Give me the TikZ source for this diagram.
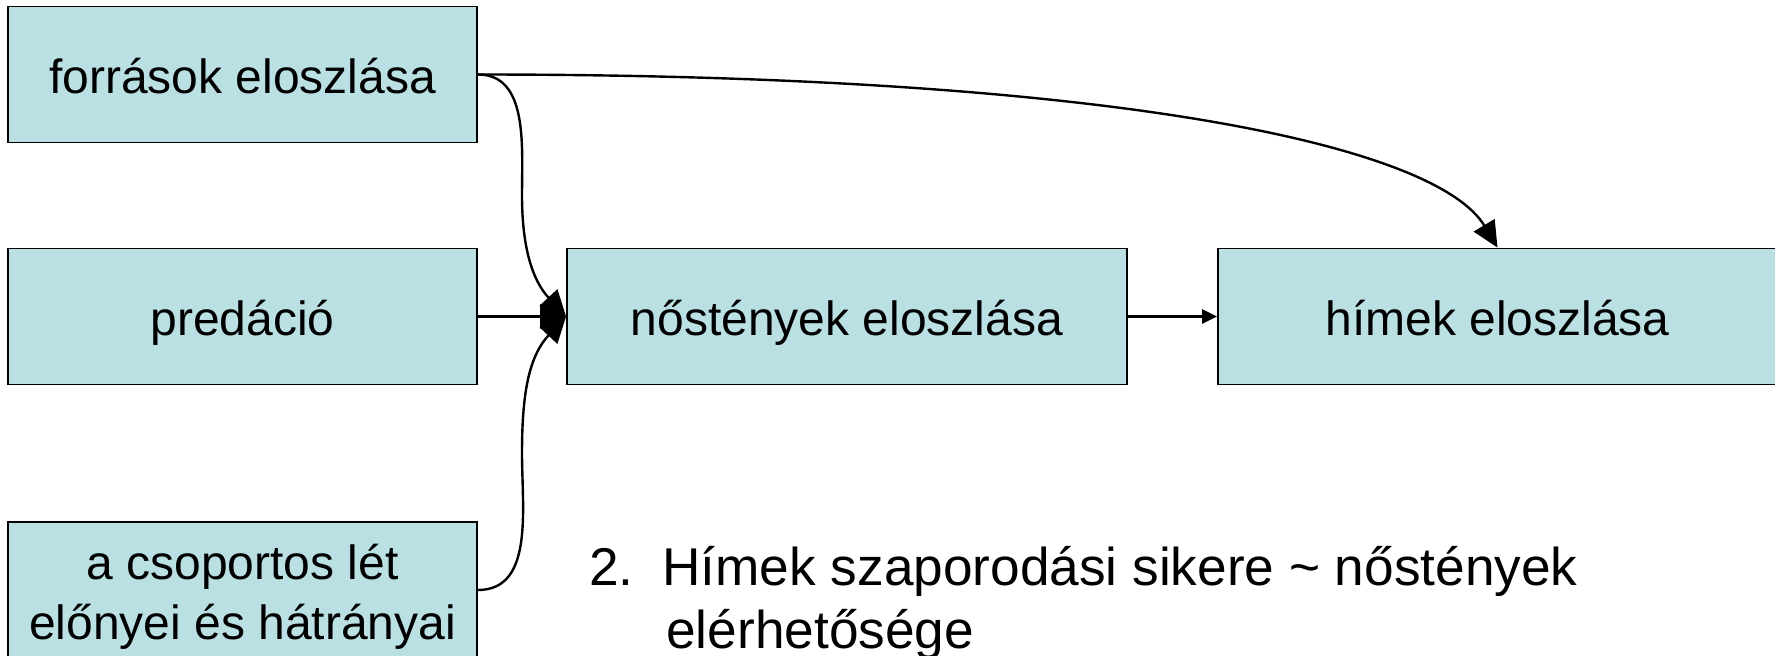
\documentclass[tikz,border=0pt]{standalone}
\usepackage{fontspec}
\setmainfont{Liberation Sans}
\usetikzlibrary{arrows.meta,calc}
\definecolor{boxfill}{RGB}{187,224,227}
\begin{document}
\begin{tikzpicture}[x=0.5pt, y=0.5pt,
  box/.style={draw=black, line width=0.9pt, fill=boxfill, inner sep=0pt, minimum height=68pt, align=center,
    text height=23.5pt, text depth=4.5pt, font=\fontsize{24pt}{30pt}\selectfont},
  link/.style={line width=1.2pt, -{Triangle[length=13pt, width=12pt]}},
  smalllink/.style={line width=1.2pt, -{Triangle[length=7.5pt, width=7pt]}}]
\useasboundingbox (0,0) rectangle (1775,655);
\node[box, minimum width=234.5pt] (forras) at (242.5,580.5) {források eloszlása};
\node[box, minimum width=234.5pt] (predacio) at (242.5,338.5) {predáció};
\node[box, minimum width=234.5pt, text height=53.5pt] (csoport) at (242.5,65) {a csoportos lét\\előnyei és hátrányai};
\node[box, minimum width=280pt] (nost) at (847,338.5) {nőstények eloszlása};
\node[box, minimum width=279.5pt] (himek) at (1497.5,338.5) {hímek eloszlása};
\draw[link] (predacio.east) -- (nost.west);
\draw[link] (forras.east) to[out=0, in=90] ($(forras.east)!0.5!(nost.west)$) to[out=-90, in=133] (nost.west);
\draw[link] (csoport.east) to[out=0, in=-90] ($(csoport.east)!0.5!(nost.west)$) to[out=90, in=-133] (nost.west);
\draw[link] (forras.east) .. controls +(650,0) and +(-60,100) .. (himek.north);
\draw[smalllink] (nost.east) -- (himek.west);
\node[anchor=base west, inner sep=0pt, align=left, font=\fontsize{26.6pt}{31.5pt}\selectfont] (punkt) at (589,7)
  {\makebox[36.5pt][l]{2.}Hímek szaporodási sikere \textasciitilde{} nőstények\\\hspace*{38.5pt}elérhetősége};
\end{tikzpicture}
\end{document}
